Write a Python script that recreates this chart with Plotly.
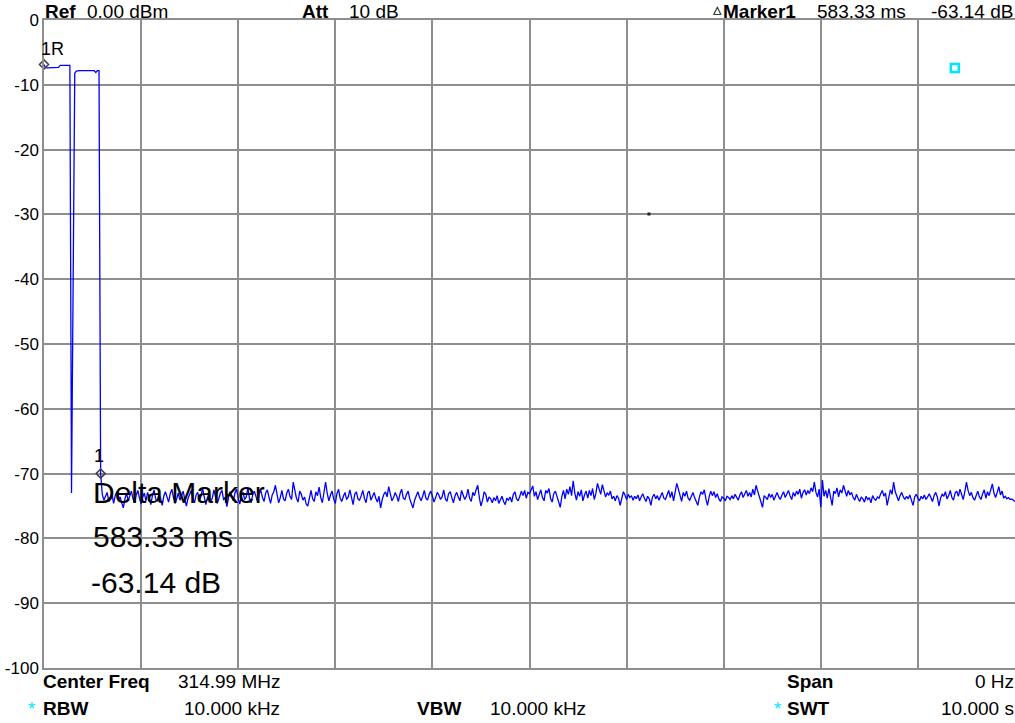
import numpy as np
import plotly.graph_objects as go

# Sweep settings shown on the analyzer screen
SWEEP_TIME_S = 10.0
N_POINTS = 601

# Trace levels (dBm): burst section at the start of the sweep
burst_levels = [
    -6.86, -7.4, -7.4, -7.4, -7.4, -7.4, -7.4, -7.4, -7.4, -7.3,
    -7.0, -7.0, -7.0, -7.0, -7.0, -7.0, -7.0, -73.0, -40.0, -8.2,
    -7.9, -7.8, -7.8, -7.8, -7.8, -7.8, -7.8, -7.8, -7.8, -7.8,
    -7.8, -7.8, -8.1, -7.8, -7.8, -70.0,
]

# Trace levels (dBm): noise floor for the rest of the sweep
noise_levels = [
    -73.2, -74.1, -73.5, -72.9, -74.3, -73.8, -73.1, -74.6, -73.4, -72.8, -74.0, -73.6, -74.4, -75.3, -73.9, -73.0, -74.2, -73.5, -72.7, -73.9,
    -74.5, -73.3, -72.6, -73.8, -74.7, -73.6, -73.0, -74.2, -72.9, -73.7, -74.8, -73.4, -72.5, -73.9, -74.3, -73.2, -73.8, -74.9, -73.5, -72.8,
    -73.6, -74.4, -73.1, -72.4, -73.7, -74.6, -73.9, -73.0, -74.1, -73.4, -72.7, -74.0, -75.0, -73.8, -73.2, -72.6, -73.9, -74.5, -73.3, -72.9,
    -74.2, -73.5, -72.3, -73.6, -74.8, -73.7, -73.1, -74.3, -73.8, -72.5, -73.4, -74.6, -73.9, -73.0, -72.6, -74.1, -73.6, -75.1, -73.7, -72.8,
    -73.5, -74.2, -73.0, -72.4, -73.8, -74.7, -73.3, -72.9, -74.0, -73.6, -72.2, -73.9, -74.5, -73.2, -72.7, -73.8, -74.4, -73.1, -72.6, -73.7,
    -74.3, -73.0, -72.5, -73.6, -74.6, -73.3, -72.8, -71.8, -73.4, -74.5, -73.7, -72.6, -73.9, -74.2, -73.0, -72.4, -73.5, -74.0, -71.3, -72.9,
    -73.8, -74.4, -72.7, -73.2, -74.1, -73.6, -74.7, -75.0, -73.5, -72.6, -73.9, -74.3, -72.8, -73.4, -72.1, -73.7, -74.5, -72.9, -71.3, -73.0,
    -74.2, -73.3, -72.7, -73.9, -74.6, -73.1, -72.4, -73.8, -74.3, -73.5, -72.9, -74.0, -73.6, -72.5, -73.7, -74.8, -73.2, -72.8, -73.9, -74.1,
    -73.4, -72.6, -73.8, -74.5, -73.0, -72.7, -74.1, -73.6, -72.9, -73.8, -74.4, -73.5, -75.3, -74.0, -73.2, -72.8, -73.6, -72.0, -73.4, -74.2,
    -73.7, -72.9, -73.5, -74.3, -73.1, -72.4, -73.8, -74.0, -73.2, -72.7, -73.9, -74.6, -75.3, -74.1, -73.3, -72.8, -73.6, -74.2, -73.5, -72.6,
    -73.8, -74.1, -73.2, -72.7, -73.5, -74.4, -73.7, -72.9, -73.3, -74.0, -73.6, -72.5, -73.9, -74.3, -73.1, -72.8, -73.7, -74.5, -73.4, -72.9,
    -73.6, -74.2, -72.6, -73.3, -74.0, -73.5, -72.4, -73.8, -74.3, -72.9, -73.4, -72.5, -71.8, -73.7, -75.0, -74.1, -72.8, -73.2, -74.4, -73.6,
    -73.9, -74.5, -73.7, -74.2, -73.4, -74.6, -74.0, -73.5, -74.3, -74.8, -73.8, -74.1, -73.6, -74.4, -73.2, -72.8, -73.9, -74.2, -73.5, -72.7,
    -73.4, -72.6, -73.8, -72.9, -73.1, -72.4, -71.9, -73.5, -72.8, -74.0, -73.3, -72.5, -73.7, -74.2, -72.6, -73.0, -72.3, -73.8, -74.4, -73.1,
    -72.7, -73.6, -74.3, -75.2, -73.5, -72.6, -73.9, -72.4, -73.2, -72.0, -73.4, -71.1, -73.0, -74.1, -72.8, -73.5, -72.5, -74.2, -73.3, -72.7,
    -73.8, -72.6, -73.4, -72.3, -74.0, -73.1, -71.5, -72.4, -73.2, -71.7, -72.9, -73.6, -73.0, -73.3, -72.7, -73.9, -73.5, -74.2, -73.4, -73.8,
    -74.9, -73.6, -72.8, -73.3, -74.0, -73.2, -73.7, -73.4, -74.1, -73.5, -73.9, -73.3, -74.2, -73.6, -73.1, -73.8, -74.3, -73.5, -73.9, -74.9,
    -73.6, -73.2, -73.9, -73.4, -74.1, -73.5, -72.9, -73.8, -74.0, -73.3, -72.6, -73.7, -72.8, -74.2, -73.1, -71.5, -72.4, -73.6, -74.3, -72.9,
    -73.5, -72.7, -73.8, -74.1, -73.4, -72.9, -73.7, -74.3, -74.9, -73.6, -72.8, -73.2, -72.5, -73.9, -74.9, -73.6, -72.7, -73.4, -72.8, -73.7,
    -73.1, -73.9, -74.3, -73.6, -73.8, -74.2, -73.5, -73.7, -74.0, -73.4, -73.9, -73.2, -73.6, -74.1, -73.3, -72.8, -73.7, -73.1, -72.6, -73.5,
    -72.9, -73.6, -72.4, -73.3, -71.8, -72.7, -73.5, -74.2, -75.2, -73.4, -73.8, -74.0, -73.1, -73.7, -73.2, -74.1, -73.5, -72.9, -73.6, -74.0,
    -73.3, -72.8, -73.7, -73.1, -72.6, -73.4, -74.0, -72.9, -73.5, -72.7, -73.2, -72.4, -73.8, -72.9, -72.5, -73.3, -72.6, -73.1, -72.2, -72.8,
    -71.3, -72.9, -73.6, -72.4, -75.2, -71.0, -73.5, -72.6, -73.8, -72.3, -73.4, -74.9, -72.7, -73.1, -72.2, -73.6, -72.5, -73.0, -71.8, -72.9,
    -73.5, -72.6, -73.3, -72.9, -73.7, -74.1, -73.2, -73.8, -74.3, -73.6, -73.9, -74.4, -73.5, -74.0, -73.7, -74.5, -73.4, -73.9, -74.1, -73.6,
    -73.8, -73.1, -72.6, -73.5, -73.0, -74.9, -73.4, -72.5, -73.2, -71.3, -72.8, -73.7, -74.2, -73.4, -72.9, -73.6, -74.0, -73.5, -73.9, -73.3,
    -74.1, -74.9, -73.6, -73.2, -73.8, -74.2, -73.5, -73.9, -73.3, -74.0, -73.6, -73.1, -73.7, -74.3, -73.4, -72.9, -73.6, -75.0, -73.8, -73.2,
    -73.5, -72.8, -73.9, -73.4, -72.6, -73.7, -74.1, -73.0, -72.7, -73.5, -72.4, -73.2, -74.0, -72.8, -71.3, -72.6, -73.4, -72.9, -73.7, -74.1,
    -73.3, -72.7, -73.6, -74.0, -73.1, -72.5, -73.8, -72.8, -73.4, -72.6, -71.6, -73.0, -73.7, -72.9, -72.0, -73.3, -72.7, -73.8, -73.5, -73.9,
    -73.7, -74.0, -73.9, -74.1, -74.3,
]

# Markers
ref_marker_time_s = 0.0
ref_marker_level = -6.86
delta_time_ms = 583.33
delta_level_db = -63.14

# Y-axis scale (dBm)
y_ticks = [0, -10, -20, -30, -40, -50, -60, -70, -80, -90, -100]

trace_levels = burst_levels + noise_levels
time_s = np.linspace(0.0, SWEEP_TIME_S, N_POINTS)

marker1_time_s = delta_time_ms / 1000.0
marker1_level = ref_marker_level + delta_level_db

FONT = "Liberation Sans, Arial, sans-serif"
GRID = "#8e8e8e"

# Plot frame in page pixels (right edge sits on the page edge)
L, R, T, B = 44, 1015, 20, 668


def px(x):
    return (x - L) / (R - L)


def py(y):
    return (B - y) / (B - T)


fig = go.Figure()

fig.add_trace(go.Scatter(
    x=time_s, y=trace_levels, mode="lines",
    line=dict(color="#0000ff", width=1.3),
    hoverinfo="skip", showlegend=False,
))

# Reference marker 1R and delta marker 1
fig.add_trace(go.Scatter(
    x=[ref_marker_time_s, marker1_time_s],
    y=[ref_marker_level, marker1_level],
    mode="markers",
    marker=dict(symbol="diamond-open", size=7, color="#404040", line=dict(width=1.5)),
    hoverinfo="skip", showlegend=False, cliponaxis=False,
))

# Display indicator and stray pixel on the screen
fig.add_trace(go.Scatter(
    x=[9.38], y=[-7.41], mode="markers",
    marker=dict(symbol="square-open", size=8, color="#00e5ff", line=dict(width=2.5)),
    hoverinfo="skip", showlegend=False,
))
fig.add_trace(go.Scatter(
    x=[6.23], y=[-29.94], mode="markers",
    marker=dict(symbol="square", size=3, color="#202020"),
    hoverinfo="skip", showlegend=False,
))

annotations = []


def label(text, x, y, size=19, anchor="left", color="black"):
    annotations.append(dict(
        text=text, x=px(x), y=py(y), xref="paper", yref="paper",
        xanchor=anchor, yanchor="middle", showarrow=False,
        font=dict(family=FONT, size=size, color=color),
    ))


# Header line
label("<b>Ref</b>", 43, 11)
label("0.00 dBm", 85, 11)
label("<b>Att</b>", 300, 11)
label("10 dB", 347, 11)
label("▵", 717, 10, size=17, anchor="center")
label("<b>Marker1</b>", 721, 11)
label("583.33 ms", 815, 11)
label("-63.14 dB", 1015, 11, anchor="right")

# Footer lines
label("<b>Center Freq</b>", 41, 681)
label("314.99 MHz", 282, 681, anchor="right")
label("<b>Span</b>", 785, 681)
label("0 Hz", 1016, 681, anchor="right")
label("*", 32, 708, size=19, anchor="center", color="#00e5ff")
label("<b>RBW</b>", 41, 708)
label("10.000 kHz", 282, 708, anchor="right")
label("<b>VBW</b>", 415, 708)
label("10.000 kHz", 588, 708, anchor="right")
label("*", 778, 708, size=19, anchor="center", color="#00e5ff")
label("<b>SWT</b>", 785, 708)
label("10.000 s", 1016, 708, anchor="right")

# Marker labels
label("1R", 52, 49, size=18, anchor="center")
label("1", 99, 456, size=18, anchor="center")

# Delta marker readout
label("Delta Marker", 91, 492, size=30)
label("583.33 ms", 91, 536, size=30)
label("-63.14 dB", 89, 582, size=30)

fig.update_layout(
    width=1015, height=723,
    margin=dict(l=L, r=1015 - R, t=T, b=723 - B),
    paper_bgcolor="white", plot_bgcolor="white",
    annotations=annotations,
    font=dict(family=FONT, color="black"),
)
fig.update_xaxes(
    range=[0, SWEEP_TIME_S], tickvals=list(range(0, 11)), showticklabels=False,
    showgrid=True, gridcolor=GRID, gridwidth=1.5, zeroline=False,
    showline=True, linecolor=GRID, linewidth=1.5, mirror=True, ticks="",
)
fig.update_yaxes(
    range=[-100, 0], tickvals=y_ticks, ticktext=[str(v) for v in y_ticks],
    tickfont=dict(family=FONT, size=17, color="black"),
    showgrid=True, gridcolor=GRID, gridwidth=1.5, zeroline=False,
    showline=True, linecolor=GRID, linewidth=1.5, mirror=False, ticks="",
    ticklabelstandoff=0,
)

fig.write_html("out.html")
